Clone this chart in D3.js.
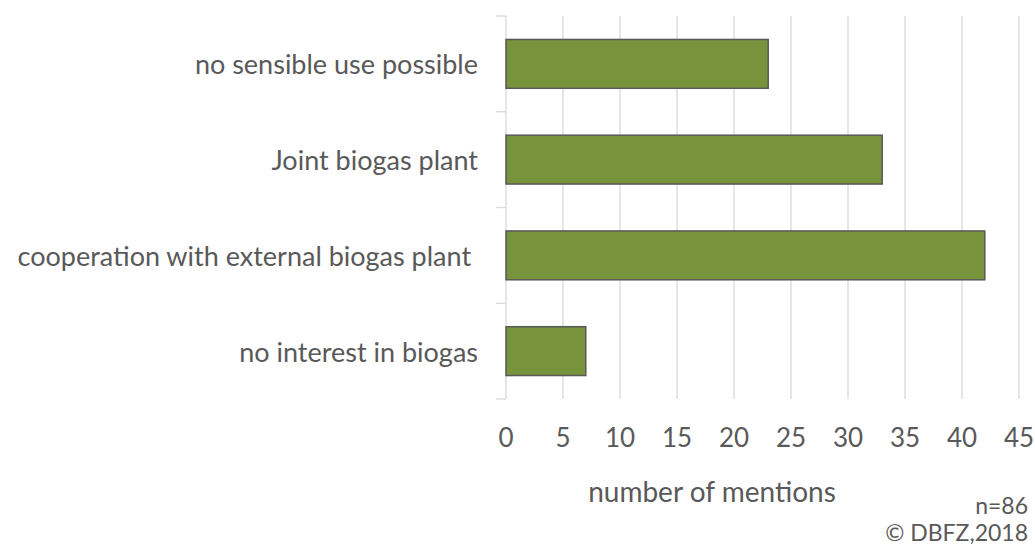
<!DOCTYPE html>
<html>
<head>
<meta charset="utf-8">
<script src="https://cdn.jsdelivr.net/npm/d3@7"></script>
<style>
  body { margin: 0; background: #fff; }
  text { font-family: Lato, "Open Sans", sans-serif; fill: #595959; white-space: pre; }
</style>
</head>
<body>
<svg id="chart" width="1035" height="547"></svg>
<script>
const categories = ['no sensible use possible', 'Joint biogas plant', 'cooperation with external biogas plant ', 'no interest in biogas']
const mentions = [23, 33, 42, 7]
const xTicks = [0, 5, 10, 15, 20, 25, 30, 35, 40, 45]

const svg = d3.select('#chart')

const x = d3.scaleLinear().domain([0, 45]).range([506, 1019])
const y = d3.scaleBand().domain(categories).range([16, 399]).paddingInner(0.49).paddingOuter(0.245)

// gridlines
svg.append('g').selectAll('line')
  .data(xTicks.slice(1))
  .enter()
  .append('line')
  .attr('x1', d => x(d)).attr('x2', d => x(d))
  .attr('y1', 16).attr('y2', 399)
  .style('stroke', '#d9d9d9')
  .style('stroke-width', 1.3)

// category axis with band boundary ticks
const bounds = categories.map(c => y(c) - y.step() * y.paddingInner() / 2)
bounds.push(399)
const ax = svg.append('g')
ax.append('line')
  .attr('x1', 506).attr('x2', 506).attr('y1', 16).attr('y2', 399)
  .style('stroke', '#d9d9d9').style('stroke-width', 1.3)
ax.selectAll('.tk').data(bounds).enter().append('line')
  .attr('class', 'tk')
  .attr('x1', 496).attr('x2', 506)
  .attr('y1', d => d).attr('y2', d => d)
  .style('stroke', '#d9d9d9').style('stroke-width', 1.3)

// bars
svg.append('g').selectAll('rect')
  .data(categories)
  .enter()
  .append('rect')
  .attr('x', x(0))
  .attr('y', d => y(d))
  .attr('width', (d, i) => x(mentions[i]) - x(0))
  .attr('height', y.bandwidth())
  .style('fill', '#77933c')
  .style('stroke', '#595959')
  .style('stroke-width', 1.5)

// category labels
svg.append('g').selectAll('text')
  .data(categories)
  .enter()
  .append('text')
  .attr('x', 478)
  .attr('y', d => y(d) + y.bandwidth() / 2 + 1)
  .attr('dy', '0.35em')
  .attr('text-anchor', 'end')
  .style('font-size', '27px')
  .text(d => d)

// value axis labels
svg.append('g').selectAll('text')
  .data(xTicks)
  .enter()
  .append('text')
  .attr('x', d => x(d))
  .attr('y', 438)
  .attr('dy', '0.35em')
  .attr('text-anchor', 'middle')
  .style('font-size', '26px')
  .text(d => d)

svg.append('text')
  .attr('x', 712).attr('y', 492).attr('dy', '0.35em')
  .attr('text-anchor', 'middle')
  .style('font-size', '28px')
  .text('number of mentions')

svg.append('text')
  .attr('x', 1028).attr('y', 506).attr('dy', '0.35em')
  .attr('text-anchor', 'end')
  .style('font-size', '23px')
  .text('n=86')

svg.append('text')
  .attr('x', 1028).attr('y', 533).attr('dy', '0.35em')
  .attr('text-anchor', 'end')
  .style('font-size', '23px')
  .text('© DBFZ,2018')
</script>
</body>
</html>
